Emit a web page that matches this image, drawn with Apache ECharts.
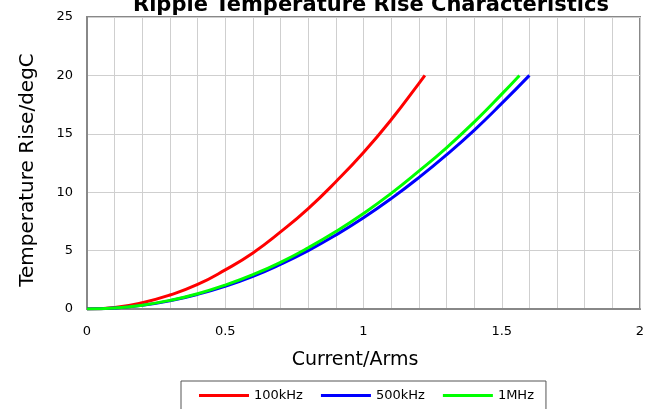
<!DOCTYPE html>
<html>
<head>
<meta charset="utf-8">
<script src="https://cdn.jsdelivr.net/npm/echarts@6/dist/echarts.min.js"></script>
<style>
html, body { margin: 0; padding: 0; background: #fff; }
#chart { width: 649px; height: 409px; }
</style>
</head>
<body>
<div id="chart"></div>
<script>
var seriesNames = ['100kHz', '500kHz', '1MHz'];
var xTicks = [0, 0.5, 1, 1.5, 2];
var yTicks = [0, 5, 10, 15, 20, 25];

// current (Arms) / temperature rise (degC)
var cur100k = [0, 0.1, 0.2, 0.3, 0.4, 0.5, 0.6, 0.7, 0.8, 0.9, 1.0, 1.1, 1.2, 1.222];
var rise100k = [0, 0.13, 0.54, 1.2, 2.1, 3.35, 4.8, 6.6, 8.6, 10.9, 13.4, 16.2, 19.3, 20];
var cur500k = [0, 0.1, 0.2, 0.3, 0.4, 0.5, 0.6, 0.7, 0.8, 0.9, 1.0, 1.1, 1.2, 1.3, 1.4, 1.5, 1.6];
var rise500k = [0, 0.08, 0.31, 0.7, 1.25, 1.95, 2.8, 3.83, 5.0, 6.33, 7.81, 9.45, 11.25, 13.2, 15.3, 17.6, 20];
var cur1M = [0, 0.1, 0.2, 0.3, 0.4, 0.5, 0.6, 0.7, 0.8, 0.9, 1.0, 1.1, 1.2, 1.3, 1.4, 1.5, 1.564];
var rise1M = [0, 0.08, 0.33, 0.74, 1.31, 2.05, 2.94, 4.0, 5.24, 6.63, 8.18, 9.9, 11.8, 13.8, 16.0, 18.4, 20];

function pairs(xs, ys) {
	var out = [];
	for (var i = 0; i < xs.length; i++) out.push([xs[i], ys[i]]);
	return out;
}

var font = 'DejaVu Sans, Verdana, sans-serif';
var chart = echarts.init(document.getElementById('chart'));
var option = {
	animation: false,
	title: {
		text: 'Ripple Temperature Rise Characteristics',
		left: 366,
		textAlign: 'center',
		top: -10,
		textStyle: { fontFamily: font, fontSize: 21, fontWeight: 'bold', color: '#000' }
	},
	legend: {
		data: seriesNames,
		left: 181,
		top: 381,
		width: 345,
		itemWidth: 50,
		itemHeight: 3,
		itemGap: 18,
		padding: [8, 12, 16, 18],
		borderColor: '#555',
		borderWidth: 1,
		borderRadius: 0,
		icon: 'rect',
		textStyle: { fontFamily: font, fontSize: 13, color: '#000' }
	},
	grid: {
		left: 87, right: 9, top: 17, bottom: 100,
		show: true,
		borderColor: '#888',
		borderWidth: 2
	},
	xAxis: {
		type: 'value',
		min: xTicks[0],
		max: xTicks[xTicks.length - 1],
		interval: 0.5,
		name: 'Current/Arms',
		nameLocation: 'middle',
		nameGap: 42,
		nameTextStyle: { fontFamily: font, fontSize: 19, color: '#000', padding: [0, 17, 0, 0] },
		axisLine: { show: true, lineStyle: { color: '#888', width: 2 } },
		axisTick: { show: false },
		axisLabel: { fontFamily: font, fontSize: 13, color: '#000', margin: 16 },
		splitLine: { show: true, lineStyle: { color: '#cfcfcf', width: 1 } },
		minorTick: { show: false, splitNumber: 5 },
		minorSplitLine: { show: true, lineStyle: { color: '#cfcfcf', width: 1 } }
	},
	yAxis: {
		type: 'value',
		min: yTicks[0],
		max: yTicks[yTicks.length - 1],
		interval: 5,
		name: 'Temperature Rise/degC',
		nameLocation: 'middle',
		nameGap: 49,
		nameTextStyle: { fontFamily: font, fontSize: 20, color: '#000', padding: [0, 14, 0, 0] },
		axisLine: { show: true, lineStyle: { color: '#888', width: 2 } },
		axisTick: { show: false },
		axisLabel: { fontFamily: font, fontSize: 13, color: '#000', margin: 14 },
		splitLine: { show: true, lineStyle: { color: '#cfcfcf', width: 1 } }
	},
	series: [{
		name: seriesNames[0],
		type: 'line',
		smooth: true,
		showSymbol: false,
		data: pairs(cur100k, rise100k),
		itemStyle: { color: '#ff0000' },
		lineStyle: { color: '#ff0000', width: 3 }
	}, {
		name: seriesNames[1],
		type: 'line',
		smooth: true,
		showSymbol: false,
		data: pairs(cur500k, rise500k),
		itemStyle: { color: '#0000ff' },
		lineStyle: { color: '#0000ff', width: 3 }
	}, {
		name: seriesNames[2],
		type: 'line',
		smooth: true,
		showSymbol: false,
		data: pairs(cur1M, rise1M),
		itemStyle: { color: '#00ff00' },
		lineStyle: { color: '#00ff00', width: 3 }
	}]
};
chart.setOption(option);
</script>
</body>
</html>
